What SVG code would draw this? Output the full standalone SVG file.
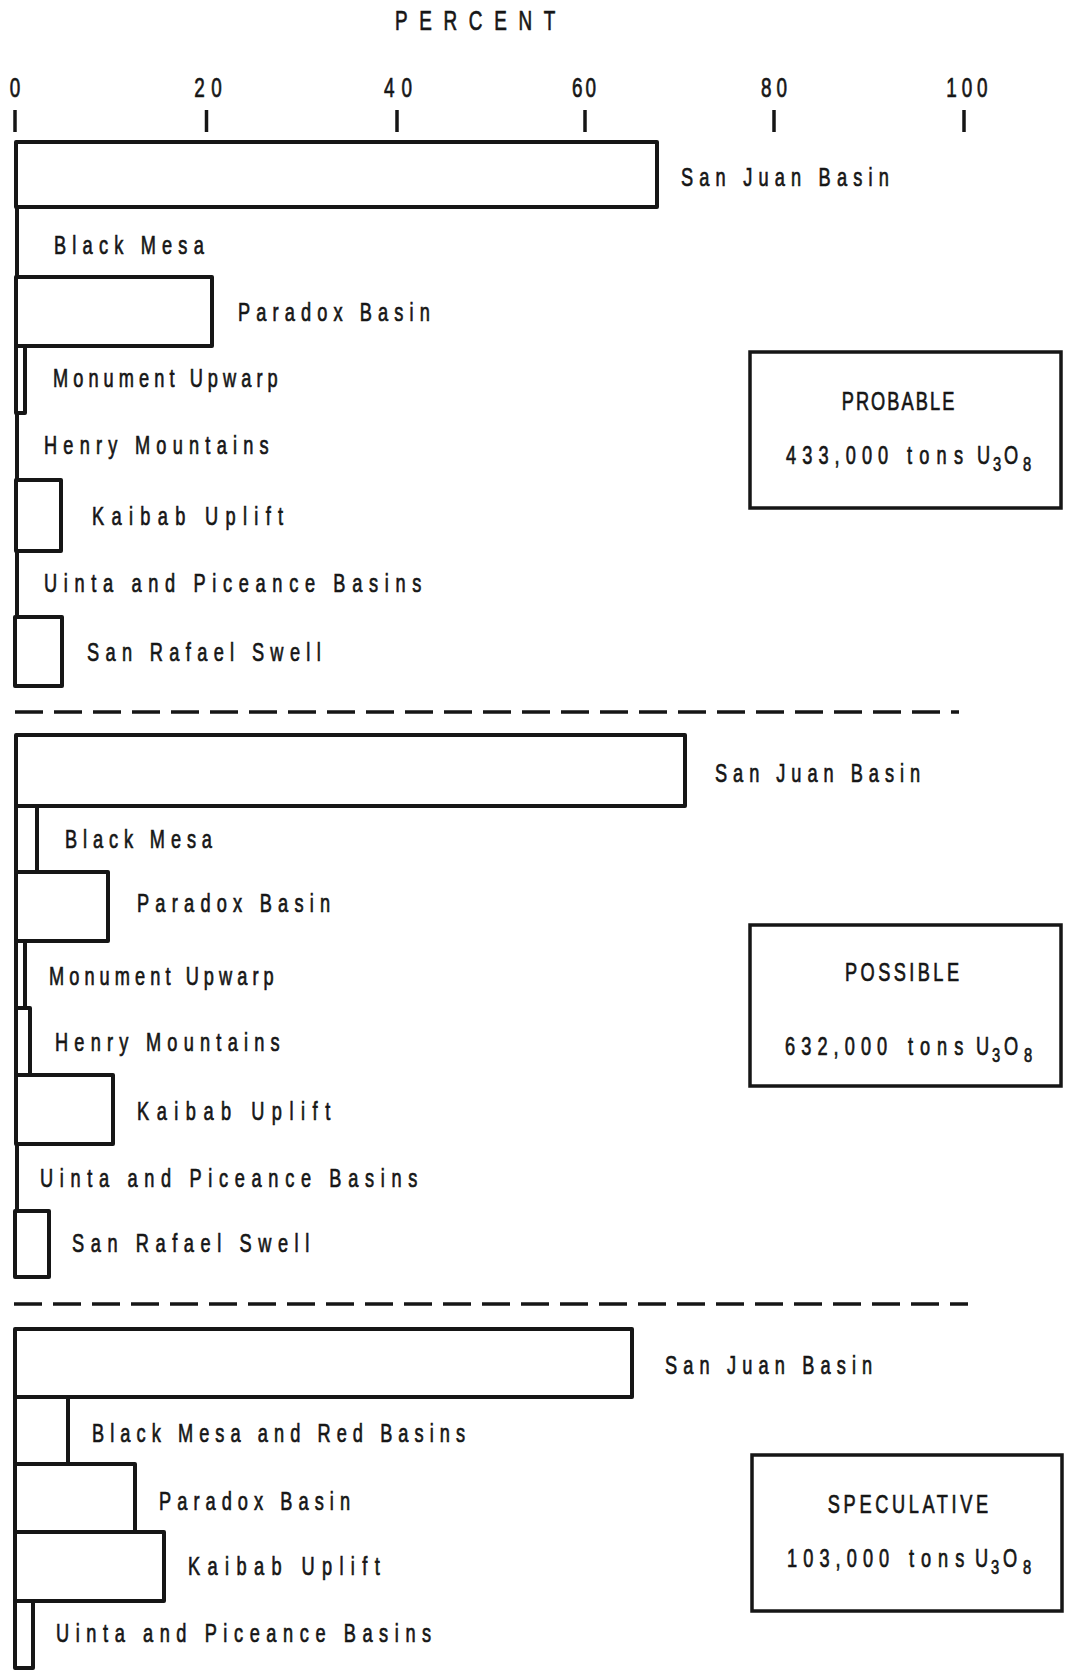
<svg xmlns="http://www.w3.org/2000/svg" width="1067" height="1671" viewBox="0 0 1067 1671">
<style>
text{font-family:"Liberation Sans",Arial,sans-serif;font-size:26px;fill:#161616;stroke:#161616;stroke-width:0.7}
.ax{font-size:27px}
.sub{font-size:21px}
.bar{fill:#fff;stroke:#161616;stroke-width:4;stroke-linejoin:round}
.ln{stroke:#161616;stroke-width:4;fill:none}
.tick{stroke:#161616;stroke-width:3.5}
.dash{stroke:#161616;stroke-width:3.5;stroke-dasharray:28 11;fill:none}
.box{fill:#fff;stroke:#161616;stroke-width:3.5}
</style>
<rect width="1067" height="1671" fill="#fff"/>

<g id="axis">
<text class="ax" transform="translate(395 30) scale(0.7 1)" textLength="229" lengthAdjust="spacing">PERCENT</text>
<text class="ax" transform="translate(15 97) scale(0.7 1)" text-anchor="middle">0</text>
<text class="ax" transform="translate(208 97) scale(0.7 1)" text-anchor="middle" textLength="39" lengthAdjust="spacing">20</text>
<text class="ax" transform="translate(398 97) scale(0.7 1)" text-anchor="middle" textLength="40" lengthAdjust="spacing">40</text>
<text class="ax" transform="translate(584 97) scale(0.7 1)" text-anchor="middle" textLength="34" lengthAdjust="spacing">60</text>
<text class="ax" transform="translate(774 97) scale(0.7 1)" text-anchor="middle" textLength="37" lengthAdjust="spacing">80</text>
<text class="ax" transform="translate(967 97) scale(0.7 1)" text-anchor="middle" textLength="59" lengthAdjust="spacing">100</text>
<line class="tick" x1="15" y1="110" x2="15" y2="132"/>
<line class="tick" x1="206.5" y1="110" x2="206.5" y2="132"/>
<line class="tick" x1="397" y1="110" x2="397" y2="132"/>
<line class="tick" x1="585" y1="110" x2="585" y2="132"/>
<line class="tick" x1="774" y1="110" x2="774" y2="132"/>
<line class="tick" x1="964" y1="110" x2="964" y2="132"/>
</g>

<g id="connectors">
<line class="dash" x1="15" y1="712" x2="959" y2="712"/>
<line class="dash" x1="14" y1="1304" x2="968" y2="1304"/>
</g>

<!-- PROBABLE -->
<g id="probable-san-juan"><rect class="bar" x="16" y="142" width="641" height="65"/><text transform="translate(681 186) scale(0.7 1)" textLength="297" lengthAdjust="spacing">San Juan Basin</text></g>
<g id="probable-black-mesa"><line class="ln" x1="17" y1="207" x2="17" y2="277"/><text transform="translate(54 254) scale(0.7 1)" textLength="214" lengthAdjust="spacing">Black Mesa</text></g>
<g id="probable-paradox"><rect class="bar" x="16" y="277" width="196" height="69"/><text transform="translate(238 321) scale(0.7 1)" textLength="274" lengthAdjust="spacing">Paradox Basin</text></g>
<g id="probable-monument"><rect class="bar" x="16" y="346" width="9" height="67"/><text transform="translate(53 387) scale(0.7 1)" textLength="321" lengthAdjust="spacing">Monument Upwarp</text></g>
<g id="probable-henry"><line class="ln" x1="17" y1="413" x2="17" y2="480"/><text transform="translate(44 454) scale(0.7 1)" textLength="321" lengthAdjust="spacing">Henry Mountains</text></g>
<g id="probable-kaibab"><rect class="bar" x="16" y="480" width="45" height="71"/><text transform="translate(92 525) scale(0.7 1)" textLength="273" lengthAdjust="spacing">Kaibab Uplift</text></g>
<g id="probable-uinta"><line class="ln" x1="17" y1="551" x2="17" y2="617"/><text transform="translate(44 592) scale(0.7 1)" textLength="539" lengthAdjust="spacing">Uinta and Piceance Basins</text></g>
<g id="probable-san-rafael"><rect class="bar" x="15" y="617" width="47" height="69"/><text transform="translate(87 661) scale(0.7 1)" textLength="334" lengthAdjust="spacing">San Rafael Swell</text></g>
<g id="probable-box">
<rect class="box" x="750" y="352" width="311" height="156"/>
<text transform="translate(898 410) scale(0.7 1)" text-anchor="middle" textLength="161" lengthAdjust="spacing">PROBABLE</text>
<text transform="translate(786 464) scale(0.7 1)" textLength="146" lengthAdjust="spacing">433,000</text>
<text transform="translate(907 464) scale(0.7 1)" textLength="80" lengthAdjust="spacing">tons</text>
<text transform="translate(977 464) scale(0.7 1)">U</text>
<text class="sub" transform="translate(993 471) scale(0.7 1)">3</text>
<text transform="translate(1004 464) scale(0.7 1)">O</text>
<text class="sub" transform="translate(1023 471) scale(0.7 1)">8</text>
</g>

<!-- POSSIBLE -->
<g id="possible-san-juan"><rect class="bar" x="16" y="735" width="669" height="71"/><text transform="translate(715 782) scale(0.7 1)" textLength="293" lengthAdjust="spacing">San Juan Basin</text></g>
<g id="possible-black-mesa"><rect class="bar" x="16" y="806" width="21" height="66"/><text transform="translate(65 848) scale(0.7 1)" textLength="210" lengthAdjust="spacing">Black Mesa</text></g>
<g id="possible-paradox"><rect class="bar" x="16" y="872" width="92" height="69"/><text transform="translate(137 912) scale(0.7 1)" textLength="276" lengthAdjust="spacing">Paradox Basin</text></g>
<g id="possible-monument"><rect class="bar" x="16" y="941" width="9" height="67"/><text transform="translate(49 985) scale(0.7 1)" textLength="321" lengthAdjust="spacing">Monument Upwarp</text></g>
<g id="possible-henry"><rect class="bar" x="16" y="1008" width="14" height="67"/><text transform="translate(55 1051) scale(0.7 1)" textLength="321" lengthAdjust="spacing">Henry Mountains</text></g>
<g id="possible-kaibab"><rect class="bar" x="16" y="1075" width="97" height="69"/><text transform="translate(137 1120) scale(0.7 1)" textLength="276" lengthAdjust="spacing">Kaibab Uplift</text></g>
<g id="possible-uinta"><line class="ln" x1="17" y1="1144" x2="17" y2="1211"/><text transform="translate(40 1187) scale(0.7 1)" textLength="539" lengthAdjust="spacing">Uinta and Piceance Basins</text></g>
<g id="possible-san-rafael"><rect class="bar" x="15" y="1211" width="34" height="66"/><text transform="translate(72 1252) scale(0.7 1)" textLength="339" lengthAdjust="spacing">San Rafael Swell</text></g>
<g id="possible-box">
<rect class="box" x="750" y="925" width="311" height="161"/>
<text transform="translate(902 981) scale(0.7 1)" text-anchor="middle" textLength="163" lengthAdjust="spacing">POSSIBLE</text>
<text transform="translate(785 1055) scale(0.7 1)" textLength="146" lengthAdjust="spacing">632,000</text>
<text transform="translate(908 1055) scale(0.7 1)" textLength="79" lengthAdjust="spacing">tons</text>
<text transform="translate(976 1055) scale(0.7 1)">U</text>
<text class="sub" transform="translate(992 1062) scale(0.7 1)">3</text>
<text transform="translate(1004 1055) scale(0.7 1)">O</text>
<text class="sub" transform="translate(1024 1062) scale(0.7 1)">8</text>
</g>

<!-- SPECULATIVE -->
<g id="speculative-san-juan"><rect class="bar" x="15" y="1329" width="617" height="68"/><text transform="translate(665 1374) scale(0.7 1)" textLength="296" lengthAdjust="spacing">San Juan Basin</text></g>
<g id="speculative-black-mesa"><rect class="bar" x="15" y="1397" width="53" height="67"/><text transform="translate(92 1442) scale(0.7 1)" textLength="533" lengthAdjust="spacing">Black Mesa and Red Basins</text></g>
<g id="speculative-paradox"><rect class="bar" x="15" y="1464" width="120" height="68"/><text transform="translate(159 1510) scale(0.7 1)" textLength="273" lengthAdjust="spacing">Paradox Basin</text></g>
<g id="speculative-kaibab"><rect class="bar" x="15" y="1532" width="149" height="69"/><text transform="translate(188 1575) scale(0.7 1)" textLength="274" lengthAdjust="spacing">Kaibab Uplift</text></g>
<g id="speculative-uinta"><rect class="bar" x="15" y="1601" width="18" height="67"/><text transform="translate(56 1642) scale(0.7 1)" textLength="536" lengthAdjust="spacing">Uinta and Piceance Basins</text></g>
<g id="speculative-box">
<rect class="box" x="752" y="1455" width="310" height="156"/>
<text transform="translate(908 1513) scale(0.7 1)" text-anchor="middle" textLength="229" lengthAdjust="spacing">SPECULATIVE</text>
<text transform="translate(787 1567) scale(0.7 1)" textLength="146" lengthAdjust="spacing">103,000</text>
<text transform="translate(909 1567) scale(0.7 1)" textLength="79" lengthAdjust="spacing">tons</text>
<text transform="translate(975 1567) scale(0.7 1)">U</text>
<text class="sub" transform="translate(991 1574) scale(0.7 1)">3</text>
<text transform="translate(1003 1567) scale(0.7 1)">O</text>
<text class="sub" transform="translate(1023 1574) scale(0.7 1)">8</text>
</g>
</svg>
